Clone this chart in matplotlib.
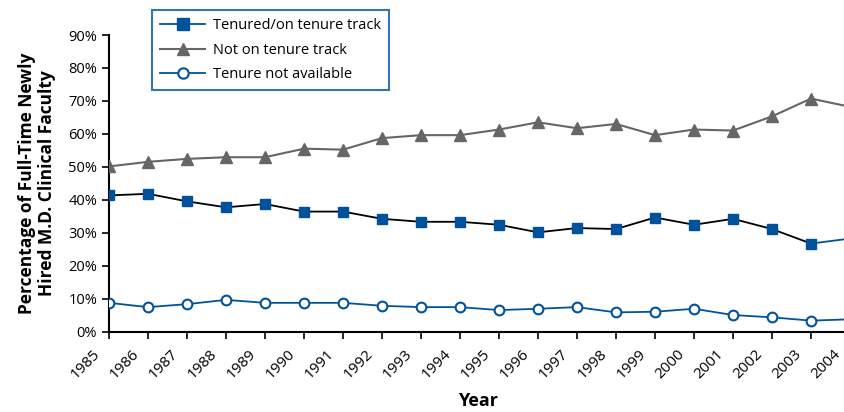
import matplotlib
matplotlib.use('Agg')
import matplotlib.pyplot as plt
from matplotlib.ticker import FuncFormatter
from matplotlib.transforms import ScaledTranslation

plt.rcParams['font.family'] = ['Open Sans', 'DejaVu Sans']

years = list(range(1985, 2005))
tenured = [41.3, 41.8, 39.5, 37.7, 38.7, 36.4, 36.4, 34.2, 33.3, 33.3,
           32.4, 30.1, 31.4, 31.1, 34.6, 32.4, 34.2, 31.1, 26.7, 28.2]
not_track = [50.1, 51.5, 52.4, 52.9, 52.9, 55.5, 55.2, 58.7, 59.6, 59.6,
             61.3, 63.5, 61.7, 63.0, 59.6, 61.3, 61.0, 65.3, 70.7, 68.2]
not_avail = [8.7, 7.4, 8.3, 9.6, 8.7, 8.7, 8.7, 7.8, 7.4, 7.4,
             6.5, 6.9, 7.4, 5.8, 6.0, 6.9, 5.0, 4.3, 3.3, 3.7]

blue = '#00539b'
grey = '#666666'


def draw_chart():
    fig = plt.figure(figsize=(8.44, 4.12), dpi=100)
    # axes deliberately run past the right edge, the original is cropped there
    ax = fig.add_axes([109 / 844, 80.5 / 412, 741 / 844, 296.5 / 412])

    ax.plot(years, not_track, color=grey, lw=1.5, marker='^', ms=8,
            mfc=grey, mec=grey, zorder=3)
    ax.plot(years[:-1], tenured[:-1], color='black', lw=1.3, marker='s', ms=7,
            mfc=blue, mec=blue, zorder=3)
    ax.plot(years[-2:], tenured[-2:], color=blue, lw=1.3, zorder=2)
    ax.plot(years[-1:], tenured[-1:], ls='none', marker='s', ms=7,
            mfc=blue, mec=blue, zorder=3)
    ax.plot(years, not_avail, color=blue, lw=1.3, marker='o', ms=7,
            mfc='white', mec=blue, mew=1.5, zorder=3)

    h1, = ax.plot([], [], color=blue, lw=1.3, marker='s', ms=9, mfc=blue, mec=blue)
    h2, = ax.plot([], [], color=grey, lw=1.5, marker='^', ms=9, mfc=grey, mec=grey)
    h3, = ax.plot([], [], color=blue, lw=1.3, marker='o', ms=7.5,
                  mfc='white', mec=blue, mew=1.5)

    ax.set_xlim(1985, 2004)
    ax.set_ylim(0, 90)
    ax.set_xticks(years)
    ax.set_xticklabels([])
    # year labels sit a little left of and below their ticks, as in the original
    shift = ScaledTranslation(-9 / 100, -23 / 100, fig.dpi_scale_trans)
    for y in years:
        ax.text(y, 0, str(y), rotation=45, ha='right', va='baseline',
                rotation_mode='anchor', fontsize=11,
                transform=ax.get_xaxis_transform() + shift, clip_on=False)
    ax.set_yticks(range(0, 91, 10))
    ax.yaxis.set_major_formatter(FuncFormatter(lambda v, p: '%d%%' % v))
    ax.tick_params(axis='y', labelsize=10.5, direction='out', length=5, width=1.2)
    ax.tick_params(axis='x', direction='out', length=5, width=1.2)

    for side in ['top', 'right']:
        ax.spines[side].set_visible(False)
    for side in ['left', 'bottom']:
        ax.spines[side].set_linewidth(1.5)

    fig.text(478 / 844, 1 - 401 / 412, 'Year', fontsize=13, fontweight='bold',
             ha='center', va='center')
    ax.set_ylabel('Percentage of Full-Time Newly\nHired M.D. Clinical Faculty',
                  fontsize=12.5, fontweight='bold', labelpad=9,
                  linespacing=1.15)

    leg = fig.legend([h1, h2, h3],
                     ['Tenured/on tenure track', 'Not on tenure track',
                      'Tenure not available'],
                     loc='upper left', bbox_to_anchor=(152 / 844, 1 - 10 / 412),
                     bbox_transform=fig.transFigure, borderaxespad=0,
                     fontsize=10.5, handlelength=3.1, handletextpad=0.5,
                     fancybox=False, labelspacing=0.66, borderpad=0.55)
    leg.get_frame().set_edgecolor(blue)
    leg.get_frame().set_linewidth(1.5)

    fig.savefig('out.png', dpi=100)


def main():
    draw_chart()


if __name__ == '__main__':
    main()
